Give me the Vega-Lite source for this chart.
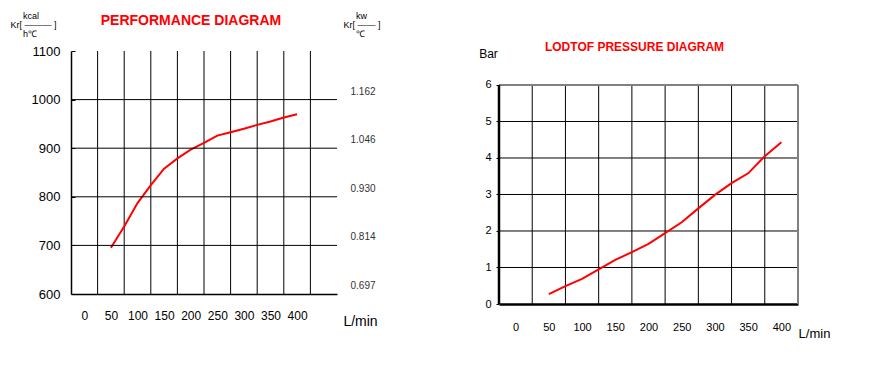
{
  "$schema": "https://vega.github.io/schema/vega-lite/v6.json",
  "background": "white",
  "padding": {"left": 10, "top": 11, "right": 5, "bottom": 5},
  "bounds": "flush",
  "spacing": 162,
  "config": {
    "view": {"stroke": null},
    "font": "Liberation Sans",
    "axis": {
      "labelColor": "black",
      "titleColor": "black",
      "labelFont": "Liberation Sans",
      "titleFont": "Liberation Sans",
      "titleFontWeight": "normal",
      "grid": false,
      "labelOverlap": false,
      "labelFlush": false
    }
  },
  "datasets": {
    "heatGridFlow": [{"flow": 25}, {"flow": 75}, {"flow": 125}, {"flow": 175}, {"flow": 225}, {"flow": 275}, {"flow": 325}, {"flow": 375}, {"flow": 425}],
    "heatGridKcal": [{"kcal": 700}, {"kcal": 800}, {"kcal": 900}, {"kcal": 1000}],
    "performance": [
      {"flow": 50, "kcal": 695},
      {"flow": 75, "kcal": 739},
      {"flow": 100, "kcal": 787},
      {"flow": 125, "kcal": 824},
      {"flow": 150, "kcal": 858},
      {"flow": 175, "kcal": 879},
      {"flow": 200, "kcal": 897},
      {"flow": 225, "kcal": 911},
      {"flow": 250, "kcal": 926},
      {"flow": 275, "kcal": 933},
      {"flow": 300, "kcal": 940},
      {"flow": 325, "kcal": 948},
      {"flow": 350, "kcal": 955},
      {"flow": 375, "kcal": 963},
      {"flow": 400, "kcal": 970}
    ],
    "pressureGridFlow": [{"flow": 25}, {"flow": 75}, {"flow": 125}, {"flow": 175}, {"flow": 225}, {"flow": 275}, {"flow": 325}, {"flow": 375}],
    "pressureGridBar": [{"bar": 1}, {"bar": 2}, {"bar": 3}, {"bar": 4}, {"bar": 5}],
    "pressureLoss": [
      {"flow": 50, "bar": 0.27},
      {"flow": 75, "bar": 0.49},
      {"flow": 100, "bar": 0.69},
      {"flow": 125, "bar": 0.95},
      {"flow": 150, "bar": 1.21},
      {"flow": 175, "bar": 1.42},
      {"flow": 200, "bar": 1.65},
      {"flow": 225, "bar": 1.94},
      {"flow": 250, "bar": 2.24},
      {"flow": 275, "bar": 2.62},
      {"flow": 300, "bar": 2.99},
      {"flow": 325, "bar": 3.31},
      {"flow": 350, "bar": 3.58},
      {"flow": 375, "bar": 4.05},
      {"flow": 400, "bar": 4.43}
    ]
  },
  "hconcat": [
    {
      "width": 266,
      "height": 243,
      "title": {
        "text": "PERFORMANCE DIAGRAM",
        "color": "#ff0000",
        "font": "Liberation Sans",
        "fontSize": 14,
        "fontWeight": "bold",
        "frame": "group",
        "anchor": "middle",
        "dx": -13,
        "baseline": "alphabetic",
        "offset": -28
      },
      "layer": [
        {
          "layer": [
            {
              "data": {"name": "heatGridFlow"},
              "mark": {"type": "rule", "color": "black", "strokeWidth": 1},
              "encoding": {
                "x": {
                  "field": "flow",
                  "type": "quantitative",
                  "scale": {"domain": [-25, 475], "nice": false, "zero": false},
                  "axis": {
                    "values": [0, 50, 100, 150, 200, 250, 300, 350, 400],
                    "tickCount": 20,
                    "format": "d",
                    "labelOverlap": false,
                    "ticks": false,
                    "domain": true,
                    "domainColor": "black",
                    "domainWidth": 1.5,
                    "labelFontSize": 12,
                    "labelPadding": 16,
                    "title": "L/min",
                    "titleFontSize": 14,
                    "titleX": 289,
                    "titleY": 27,
                    "titleAlign": "center",
                    "titleBaseline": "middle"
                  }
                }
              }
            },
            {
              "data": {"name": "performance"},
              "mark": {"type": "line", "color": "#ff0000", "strokeWidth": 2},
              "encoding": {
                "x": {"field": "flow", "type": "quantitative", "title": "L/min"},
                "y": {
                  "field": "kcal",
                  "type": "quantitative",
                  "scale": {"domain": [600, 1100], "nice": false, "zero": false},
                  "axis": {
                    "orient": "left",
                    "values": [600, 700, 800, 900, 1000, 1100],
                    "tickCount": 20,
                    "format": "d",
                    "labelOverlap": false,
                    "domain": true,
                    "domainColor": "black",
                    "domainWidth": 1.5,
                    "ticks": true,
                    "tickColor": "black",
                    "tickSize": -4,
                    "labelFontSize": 13,
                    "labelPadding": 15,
                    "title": ["\u2060\u00a0\u00a0\u00a0\u00a0\u00a0kcal", "Kr[ ——— ]", "\u2060\u00a0\u00a0\u00a0\u00a0\u00a0h℃"],
                    "titleFontSize": 9,
                    "titleLineHeight": 9,
                    "titleAngle": 0,
                    "titleAlign": "left",
                    "titleBaseline": "top",
                    "titleX": -61,
                    "titleY": -40
                  }
                }
              }
            }
          ]
        },
        {
          "data": {"name": "heatGridKcal"},
          "mark": {"type": "rule", "color": "black", "strokeWidth": 1},
          "encoding": {
            "y": {
              "field": "kcal",
              "type": "quantitative",
              "axis": {
                "orient": "right",
                "values": [1000, 900, 800, 700, 600],
                "tickCount": 20,
                "labelExpr": "format(datum.value * 0.00116235, '.3f')",
                "labelOverlap": false,
                "ticks": false,
                "domain": false,
                "labelFontSize": 10,
                "labelColor": "#333333",
                "labelOffset": -8.5,
                "labelPadding": 13,
                "title": ["\u2060\u00a0\u00a0\u00a0\u00a0\u00a0kw", "Kr[ —— ]", "\u2060\u00a0\u00a0\u00a0\u00a0\u00a0℃"],
                "titleFontSize": 9,
                "titleLineHeight": 9,
                "titleAngle": 0,
                "titleAlign": "left",
                "titleBaseline": "top",
                "titleX": 6,
                "titleY": -40
              }
            }
          }
        }
      ],
      "resolve": {"axis": {"y": "independent"}}
    },
    {
      "width": 299,
      "height": 253,
      "title": {
        "text": "LODTOF PRESSURE DIAGRAM",
        "color": "#ff0000",
        "font": "Liberation Sans",
        "fontSize": 12,
        "fontWeight": "bold",
        "frame": "group",
        "anchor": "middle",
        "dx": -14,
        "baseline": "alphabetic",
        "offset": -15.7
      },
      "layer": [
        {
          "data": {"name": "pressureGridFlow"},
          "mark": {"type": "rule", "color": "black", "strokeWidth": 1},
          "encoding": {
            "x": {
              "field": "flow",
              "type": "quantitative",
              "scale": {"domain": [-25, 425], "nice": false, "zero": false},
              "axis": {
                "values": [0, 50, 100, 150, 200, 250, 300, 350, 400],
                "tickCount": 20,
                "format": "d",
                "labelOverlap": false,
                "ticks": false,
                "domain": true,
                "domainColor": "black",
                "domainWidth": 2.5,
                "labelFontSize": 11,
                "labelPadding": 17,
                "title": "L/min",
                "titleFontSize": 13,
                "titleX": 315,
                "titleY": 29,
                "titleAlign": "center",
                "titleBaseline": "middle"
              }
            },
            "y": {"datum": 0, "scale": {"domain": [0, 6.9315], "nice": false, "zero": false}},
            "y2": {"datum": 6}
          }
        },
        {
          "data": {"name": "pressureGridBar"},
          "mark": {"type": "rule", "color": "black", "strokeWidth": 1},
          "encoding": {
            "y": {
              "field": "bar",
              "type": "quantitative",
              "axis": {
                "values": [0, 1, 2, 3, 4, 5, 6],
                "tickCount": 20,
                "format": "d",
                "labelOverlap": false,
                "domain": false,
                "ticks": true,
                "tickColor": "black",
                "tickSize": 3,
                "labelFontSize": 11,
                "labelPadding": 5,
                "title": "Bar",
                "titleFontSize": 12,
                "titleAngle": 0,
                "titleAlign": "center",
                "titleBaseline": "middle",
                "titleX": -11,
                "titleY": 2
              }
            }
          }
        },
        {
          "data": {"values": [{}]},
          "mark": {"type": "rule", "color": "#808080", "strokeWidth": 2},
          "encoding": {
            "y": {"datum": 6}
          }
        },
        {
          "data": {"values": [{}]},
          "mark": {"type": "rule", "color": "#808080", "strokeWidth": 2},
          "encoding": {
            "x": {"datum": 425},
            "y": {"datum": 0},
            "y2": {"datum": 6}
          }
        },
        {
          "data": {"values": [{}]},
          "mark": {"type": "rule", "color": "black", "strokeWidth": 2.5},
          "encoding": {
            "x": {"datum": -25},
            "y": {"datum": 0},
            "y2": {"datum": 6}
          }
        },
        {
          "data": {"name": "pressureLoss"},
          "mark": {"type": "line", "color": "#ff0000", "strokeWidth": 2},
          "encoding": {
            "x": {"field": "flow", "type": "quantitative", "title": "L/min"},
            "y": {"field": "bar", "type": "quantitative", "title": "Bar"}
          }
        }
      ]
    }
  ]
}
